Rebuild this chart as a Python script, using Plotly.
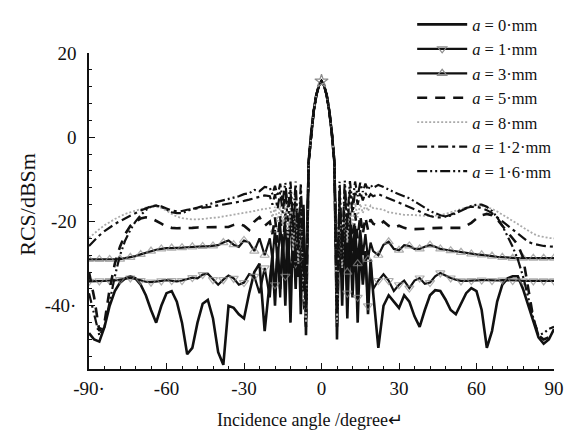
import plotly.graph_objects as go

# ---------------- data ----------------
angles_left = [-90, -88, -86, -84, -82, -80, -78, -76, -74, -72, -70, -68, -66, -64, -62, -60, -58, -56,
               -54, -52, -50, -48, -46, -44, -42, -40, -38, -36, -34, -32, -30, -28, -26, -24, -22]
angles_center = [-20, -19, -18, -17, -16, -15, -14, -13, -12, -11, -10, -9, -8, -7, -6, -5, -4, -3, -2, -1,
                 0, 1, 2, 3, 4, 5, 6, 7, 8, 9, 10, 11, 12, 13, 14, 15, 16, 17, 18, 19, 20]
angles_right = [22, 24, 26, 28, 30, 32, 34, 36, 38, 40, 42, 44, 46, 48, 50, 52, 54, 56,
                58, 60, 62, 64, 66, 68, 70, 72, 74, 76, 78, 80, 82, 84, 86, 88, 90]
angles = angles_left + angles_center + angles_right

# main lobe shared by all cases (-5 .. 5 deg)
main_lobe = [-6, 1, 6.3, 10, 12.3, 13.3, 12.3, 10, 6.3, 1, -6]

rcs_a0 = ([-46.5, -48, -48.5, -45, -40, -36.5, -34.5, -33.5, -33, -33.5, -35, -37.5, -41, -44, -40, -37, -36.5, -39,
           -44, -51.5, -50, -44, -39.5, -38.6, -43, -51, -54, -40, -40.5, -42, -43, -37, -32, -30, -46]
          + [-34, -28, -40, -26, -36, -24, -40, -22, -44, -20, -36, -18, -42, -16, -47]
          + main_lobe
          + [-48, -17, -40, -19, -43, -21, -38, -23, -44, -25, -35, -27, -42, -29, -37]
          + [-50, -40, -37.5, -39, -40.5, -37.5, -39, -42.5, -45, -41, -37.5, -36.3, -36.5, -38.5, -41, -42, -39.5, -37,
             -35.8, -36.5, -41, -50, -46, -39, -35, -33.5, -33, -33, -36, -40, -44, -47.5, -49, -48, -45.5])

rcs_a1 = ([-34.2, -34.2, -34.1, -34.1, -34, -34, -33.8, -33.6, -33.4, -33.6, -34, -34.3, -34.4, -34.3, -34.1, -33.9,
           -34, -34.2, -34, -33.6, -33.3, -33.5, -32.6, -32.4, -33.8, -35, -33.8, -32.8, -33.5, -35, -34.5, -32.5,
           -33, -37, -31]
          + [-38, -30, -35, -27, -38, -25, -33, -23, -36, -21, -30, -19, -38, -17, -40]
          + main_lobe
          + [-42, -18, -33, -20, -37, -22, -31, -24, -38, -26, -34, -28, -40, -30, -36]
          + [-34, -32.5, -34, -36.5, -35, -34, -35.8, -34, -33.4, -34.8, -34.5, -33, -32.2, -32.8, -33.4, -33.8, -34.1,
             -34.1, -34, -33.9, -33.9, -33.9, -34, -34, -33.9, -33.9, -34, -34, -34.1, -34.1, -34.1, -34.1, -34.1,
             -34.1, -34.1])

rcs_a3 = ([-29, -29, -29, -29, -29, -29, -28.9, -28.7, -28.5, -28.2, -27.8, -27.4, -27, -26.7, -26.5, -26.3, -26.3,
           -26.3, -26.2, -26.1, -26, -26, -25.9, -25.9, -25.8, -25.6, -25, -24.5, -25.5, -26, -24.5, -25, -27, -24, -28]
          + [-24, -29, -22, -30, -21, -28, -20, -32, -19, -27, -18, -31, -16, -26, -35]
          + main_lobe
          + [-36, -16, -28, -18, -32, -19, -27, -21, -30, -22, -28, -23, -29, -25, -27]
          + [-28, -25.5, -24.8, -26.5, -26.8, -25.6, -25.8, -26.5, -26.5, -26, -25.6, -26, -26.5, -26.7, -26.9, -27.1,
             -27.3, -27.5, -27.7, -27.8, -27.9, -28, -28.2, -28.4, -28.5, -28.6, -28.7, -28.7, -28.7, -28.7, -28.7,
             -28.7, -28.7, -28.7, -28.7])

rcs_a5 = ([-32, -38, -46, -44, -36, -30, -26, -23, -21, -20, -19.3, -19, -19.2, -19.8, -20.5, -21.2, -21.5, -21.6,
           -21.6, -21.5, -21.5, -21.4, -21.4, -21.4, -21.3, -21.3, -21.3, -21.3, -20.8, -20.5, -21, -22, -20, -19, -21]
          + [-20, -23, -19, -25, -18.5, -27, -18, -29, -17.5, -31, -17, -34, -16.5, -38, -45]
          + main_lobe
          + [-45, -16.5, -34, -17, -29, -17.5, -26, -18, -24, -18.5, -23, -19, -22, -19.5, -20.5]
          + [-21, -20, -21, -21.5, -21, -21.5, -21.8, -21.8, -21.8, -21.7, -21.6, -21.5, -21.5, -21.5, -21.5, -21.5,
             -21.5, -21, -20.3, -19.3, -18.5, -18.2, -18.5, -19.5, -21, -22.5, -24, -25.5, -28.5, -36, -43, -47, -48,
             -47.5, -47])

rcs_a8 = ([-23.9, -22.8, -21.8, -20.9, -20.1, -19.4, -18.8, -18.2, -17.8, -17.4, -17, -16.7, -16.5, -16.5, -16.8,
           -17.4, -18.2, -18.8, -19.2, -19.4, -19.5, -19.5, -19.4, -19.3, -19.2, -19, -18.8, -18.6, -18.4, -18.2, -18,
           -17.8, -17.5, -17.2, -17]
          + [-16.8, -19, -16.5, -20, -16.3, -21, -16, -24, -15.5, -27, -15, -30, -15, -36, -44]
          + main_lobe
          + [-44, -14.8, -31, -15, -25, -15.3, -21, -15.6, -19, -15.8, -18, -16, -17.5, -16.2, -16.8]
          + [-17, -17.2, -17.8, -18, -18.2, -18.4, -18.4, -18.5, -18.6, -18.7, -18.7, -18.6, -18.4, -18.2, -17.8, -17.4,
             -17, -16.6, -16.3, -16.2, -16.3, -16.6, -17, -17.6, -18.3, -19, -19.8, -20.6, -21.4, -22.2, -22.9, -23.4,
             -23.7, -23.9, -24])

rcs_a12 = ([-25.8, -24.5, -23.3, -22.3, -21.4, -20.6, -19.9, -19.2, -18.6, -18, -17.4, -16.9, -16.4, -16.2, -16.4,
            -16.9, -17.4, -17.6, -17.5, -17.2, -17, -16.8, -16.7, -16.6, -16.4, -16.2, -16, -15.8, -15.6, -15.4, -15.1,
            -14.8, -14.5, -14.2, -13.8]
           + [-14, -16, -13.5, -17, -13, -18, -12.8, -20, -12.5, -23, -12.5, -27, -13, -33, -42]
           + main_lobe
           + [-42, -12.5, -29, -12.3, -22, -12.4, -18, -12.7, -16, -13, -15, -13.2, -14.5, -13.5, -14]
           + [-13.5, -14, -14.5, -15, -15.5, -16, -16.5, -17, -17.6, -18.2, -18.7, -19, -19, -18.8, -18.4, -17.8, -17.2,
              -16.8, -16.5, -16.5, -16.8, -17.3, -18, -19, -20, -21, -22, -23, -24, -24.8, -25.3, -25.6, -25.8, -25.9,
              -26])

rcs_a16 = ([-37, -42, -47, -45, -39, -33, -28, -24.5, -22, -20, -18.5, -17.3, -16.5, -16.2, -16.5, -17.2, -17.8, -18,
            -18, -17.5, -17, -16.7, -16.4, -16, -15.6, -15.3, -15, -14.6, -14.4, -14, -13.5, -13.3, -12.5, -12.8, -11.8]
           + [-12, -13.5, -11.5, -14, -11, -15, -10.8, -17, -10.5, -20, -10.5, -24, -11, -30, -40]
           + main_lobe
           + [-40, -10.5, -26, -10.3, -20, -10.4, -16, -10.5, -14, -10.8, -13, -11, -12.5, -11.3, -12]
           + [-11.3, -11.8, -12.5, -13, -13.5, -14, -14.5, -15.2, -16, -16.8, -17.5, -18, -18.5, -18.8, -18.6, -18,
              -17.4, -16.8, -16.3, -16, -16, -16.5, -17.5, -19, -21, -23.5, -26, -29, -33, -38, -43, -47, -46.5, -45.5,
              -45])

peak_angle = [0]
peak_value = [13.3]

legend_labels = ["<i>a</i> = 0·mm", "<i>a</i> = 1·mm", "<i>a</i> = 3·mm", "<i>a</i> = 5·mm",
                 "<i>a</i> = 8·mm", "<i>a</i> = 1·2·mm", "<i>a</i> = 1·6·mm"]
x_tick_vals = [-90, -60, -30, 0, 30, 60, 90]
x_tick_text = ["-90·", "-60", "-30", "0", "30", "60", "90"]
y_tick_vals = [-40, -20, 0, 20]
y_tick_text = ["-40·", "-20", "0", "20"]

# ---------------- figure ----------------
SERIF = "Liberation Serif, Times New Roman, serif"
BLACK = "#111111"
GRAY_MK = "#8c8c8c"

fig = go.Figure()


def marker_sizes(xs, size):
    return [size if ((x + 90) % 4 == 0 and abs(x) > 6) else 0 for x in xs]


# a = 0 : solid thick
fig.add_trace(go.Scatter(x=angles, y=rcs_a0, mode="lines", name=legend_labels[0],
                         line=dict(color=BLACK, width=2.6)))

# a = 1 : solid + down triangles
fig.add_trace(go.Scatter(x=angles, y=rcs_a1, mode="lines+markers", showlegend=False,
                         line=dict(color=BLACK, width=2.2),
                         marker=dict(symbol="triangle-down-open", color=GRAY_MK, size=marker_sizes(angles, 8),
                                     line=dict(width=1.2, color=GRAY_MK))))
fig.add_trace(go.Scatter(x=[None], y=[None], mode="lines+markers", name=legend_labels[1],
                         line=dict(color=BLACK, width=2.2),
                         marker=dict(symbol="triangle-down-open", color=GRAY_MK, size=8,
                                     line=dict(width=1.2, color=GRAY_MK))))

# a = 3 : solid + up triangles
fig.add_trace(go.Scatter(x=angles, y=rcs_a3, mode="lines+markers", showlegend=False,
                         line=dict(color=BLACK, width=2.2),
                         marker=dict(symbol="triangle-up-open", color=GRAY_MK, size=marker_sizes(angles, 8),
                                     line=dict(width=1.2, color=GRAY_MK))))
fig.add_trace(go.Scatter(x=[None], y=[None], mode="lines+markers", name=legend_labels[2],
                         line=dict(color=BLACK, width=2.2),
                         marker=dict(symbol="triangle-up-open", color=GRAY_MK, size=8,
                                     line=dict(width=1.2, color=GRAY_MK))))

# a = 5 : dashed
fig.add_trace(go.Scatter(x=angles, y=rcs_a5, mode="lines", name=legend_labels[3],
                         line=dict(color=BLACK, width=2.6, dash="10px,8px")))

# a = 8 : gray dotted
fig.add_trace(go.Scatter(x=angles, y=rcs_a8, mode="lines", name=legend_labels[4],
                         line=dict(color="#aaaaaa", width=1.8, dash="2px,2px")))

# a = 12 : dash-dot
fig.add_trace(go.Scatter(x=angles, y=rcs_a12, mode="lines", name=legend_labels[5],
                         line=dict(color=BLACK, width=2.2, dash="10px,4px,3px,4px")))

# a = 16 : dash-dot-dot
fig.add_trace(go.Scatter(x=angles, y=rcs_a16, mode="lines", name=legend_labels[6],
                         line=dict(color=BLACK, width=2.2, dash="10px,3px,2px,3px,2px,3px")))

# peak star
fig.add_trace(go.Scatter(x=peak_angle, y=peak_value, mode="markers", showlegend=False,
                         marker=dict(symbol="star-open", size=10, color=GRAY_MK, line=dict(width=1.2))))

fig.update_layout(
    width=580, height=434,
    margin=dict(l=81, r=34, t=45, b=73, autoexpand=False),
    paper_bgcolor="white", plot_bgcolor="white",
    font=dict(family=SERIF, size=19, color=BLACK),
    showlegend=True,
    legend=dict(x=0.695, y=1.145, xanchor="left", yanchor="top", bgcolor="rgba(0,0,0,0)",
                font=dict(family=SERIF, size=16.5, color=BLACK), itemwidth=50,
                tracegroupgap=0),
    xaxis=dict(range=[-90, 90], showline=True, linecolor=BLACK, linewidth=1.5, mirror=False,
               showgrid=False, zeroline=False, ticks="inside", ticklen=6, tickwidth=1.3, tickcolor=BLACK,
               tickvals=x_tick_vals, ticktext=x_tick_text, tickfont=dict(size=19), ticklabelstandoff=1,
               minor=dict(ticks="inside", dtick=6, tick0=-90, ticklen=3, tickwidth=1, tickcolor=BLACK)),
    yaxis=dict(range=[-55, 20], showline=True, linecolor=BLACK, linewidth=1.5, mirror=False,
               showgrid=False, zeroline=False, ticks="inside", ticklen=6, tickwidth=1.3, tickcolor=BLACK,
               tickvals=y_tick_vals, ticktext=y_tick_text, tickfont=dict(size=19), ticklabelstandoff=7,
               minor=dict(ticks="inside", dtick=4, tick0=0, ticklen=3, tickwidth=1, tickcolor=BLACK)),
    annotations=[
        dict(text="Incidence angle /degree↵", xref="paper", yref="paper", x=0.476, y=-0.16,
             xanchor="center", yanchor="middle", showarrow=False, font=dict(family=SERIF, size=18)),
        dict(text="RCS/dBSm", xref="paper", yref="paper", x=-0.131, y=0.52, textangle=-90,
             xanchor="center", yanchor="middle", showarrow=False, font=dict(family=SERIF, size=22)),
    ],
)

fig.write_html("out.html")
